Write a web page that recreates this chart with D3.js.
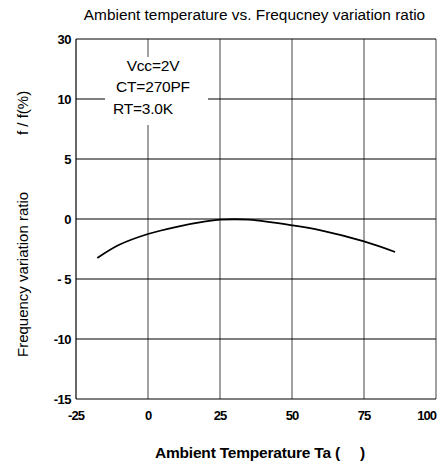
<!DOCTYPE html>
<html><head><meta charset="utf-8">
<script src="https://cdn.jsdelivr.net/npm/d3@7/dist/d3.min.js"></script>
<style>body{margin:0;background:#fff}svg{display:block}text{font-family:"Liberation Sans",Arial,sans-serif}</style>
</head><body>
<svg id="c" width="446" height="468"></svg>
<script>
const temps = [-17.6, -10, 0, 10, 20, 25, 30, 35, 50, 60, 75, 85.8];
const ratios = [-3.25, -2.15, -1.25, -0.65, -0.2, -0.06, -0.02, -0.06, -0.53, -0.95, -1.87, -2.75];
const xTicks = [-25, 0, 25, 50, 75, 100];
const yTickVals = [-15, -10, -5, 0, 5, 10, 15];
const yTickLabels = ["-15", "-10", "- 5", "0", "5", "10", "30"];
const notes = ["Vcc=2V", "CT=270PF", "RT=3.0K"];

const svg = d3.select("#c");
const x = d3.scaleLinear().domain([-25, 100]).range([76, 436]);
const y = d3.scaleLinear().domain([-15, 15]).range([399, 39]);

// vertical grid (grey)
svg.append("g").selectAll("line").data(xTicks).join("line")
  .attr("x1", d => x(d)).attr("x2", d => x(d)).attr("y1", y(15)).attr("y2", y(-15))
  .attr("stroke", d => d === -25 ? "#000" : "#7a7a7a").attr("stroke-width", d => d === -25 ? 1.2 : 1.4);
// horizontal grid (black)
svg.append("g").selectAll("line").data(yTickVals).join("line")
  .attr("x1", x(-25)).attr("x2", x(100)).attr("y1", d => y(d)).attr("y2", d => y(d))
  .attr("stroke", "#000").attr("stroke-width", 1.1);

// annotation box
svg.append("rect").attr("x", 105).attr("y", 57).attr("width", 103).attr("height", 68).attr("fill", "#fff");
const nx = [153, 153, 113], ny = [71, 92, 114], na = ["middle", "middle", "start"];
svg.append("g").selectAll("text").data(notes).join("text")
  .attr("x", (d, i) => nx[i]).attr("y", (d, i) => ny[i]).attr("text-anchor", (d, i) => na[i])
  .attr("font-size", 15.5).attr("letter-spacing", -0.2).attr("fill", "#000").text(d => d);

// curve
const line = d3.line().x(d => x(d[0])).y(d => y(d[1])).curve(d3.curveCatmullRom);
svg.append("path").datum(temps.map((t, i) => [t, ratios[i]]))
  .attr("d", line).attr("fill", "none").attr("stroke", "#000").attr("stroke-width", 1.8);

// y tick labels
svg.append("g").selectAll("text").data(yTickVals).join("text")
  .attr("x", 71).attr("y", d => y(d) + 5).attr("text-anchor", "end")
  .attr("font-size", 13).attr("font-weight", "bold").attr("letter-spacing", -0.5)
  .text((d, i) => yTickLabels[i]);
// x tick labels
svg.append("g").selectAll("text").data(xTicks).join("text")
  .attr("x", d => x(d)).attr("y", 420).attr("text-anchor", (d, i) => i === xTicks.length - 1 ? "end" : "middle")
  .attr("font-size", 13).attr("font-weight", "bold").attr("letter-spacing", -1)
  .text(d => String(d));

// title
svg.append("text").attr("x", 254.5).attr("y", 20).attr("text-anchor", "middle")
  .attr("font-size", 15.4).text("Ambient temperature vs. Frequcney variation ratio");
// x label
svg.append("text").attr("x", 155).attr("y", 458).attr("text-anchor", "start")
  .attr("font-size", 15.5).attr("font-weight", "bold").attr("letter-spacing", -0.2)
  .text("Ambient Temperature Ta (");
svg.append("text").attr("x", 360).attr("y", 458).attr("text-anchor", "start")
  .attr("font-size", 15.5).attr("font-weight", "bold").text(")");
// y label
svg.append("text").attr("transform", "translate(28,357) rotate(-90)").attr("text-anchor", "start")
  .attr("font-size", 15).text("Frequency variation ratio");
svg.append("text").attr("transform", "translate(28,135) rotate(-90)").attr("text-anchor", "start")
  .attr("font-size", 15).text("f / f(%)");
</script>
</body></html>
